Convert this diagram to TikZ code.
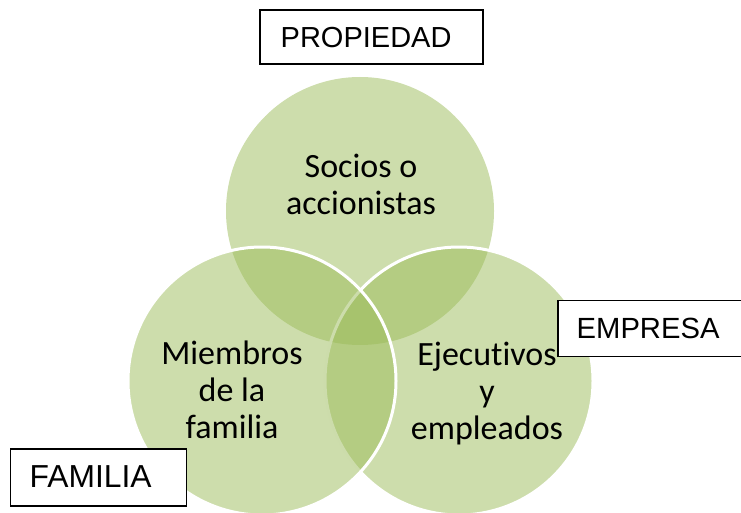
\documentclass[tikz,border=0pt]{standalone}
\usepackage{fontspec}
\setmainfont{Carlito}[Ligatures=NoCommon]
\newfontfamily\arialf{Liberation Sans}
\definecolor{vennolive}{HTML}{9BBB59}
\begin{document}
\begin{tikzpicture}[x=1pt,y=-1pt,
  venn/.style={circle, minimum size=268pt, inner sep=0pt, fill=vennolive, fill opacity=0.5, text opacity=1},
  vennline/.style={draw=white, draw opacity=1, line width=3pt},
  venntext/.style={align=center, font=\fontsize{34}{37}\selectfont, text=black},
  labbox/.style={draw=black, line width=1.8pt, fill=white, anchor=north west, inner sep=0pt},
  labtext/.style={anchor=base west, inner sep=0pt, text=black}]
\useasboundingbox (0,0) rectangle (741,513);
% circles
\node[venn] (ctop) at (360,211) {};
\node[venn, vennline] (cright) at (459,381) {};
\node[venn, vennline] (cleft) at (262,381) {};
% circle texts
\node[venntext] (ttop) at (361,184.5) {Socios o\\accionistas};
\node[venntext] (tleft) at (232,389.5) {Miembros\\de la\\familia};
\node[venntext] (tright) at (487,394) {Ejecutivos\\y\\empleados};
% label boxes
\node[labbox, minimum width=223pt, minimum height=54pt] (bprop) at (259,9) {};
\node[labtext, font=\arialf\fontsize{29}{33}\selectfont] (lprop) at (280.5,48) {PROPIEDAD};
\node[labbox, minimum width=195pt, minimum height=56pt] (bemp) at (557,299.5) {};
\node[labtext, font=\arialf\fontsize{29.2}{33}\selectfont] (lemp) at (576.5,338) {EMPRESA};
\node[labbox, minimum width=176pt, minimum height=57pt] (bfam) at (9.5,448) {};
\node[labtext, font=\arialf\fontsize{31.8}{35}\selectfont] (lfam) at (29.5,487.5) {FAMILIA};
\end{tikzpicture}
\end{document}
